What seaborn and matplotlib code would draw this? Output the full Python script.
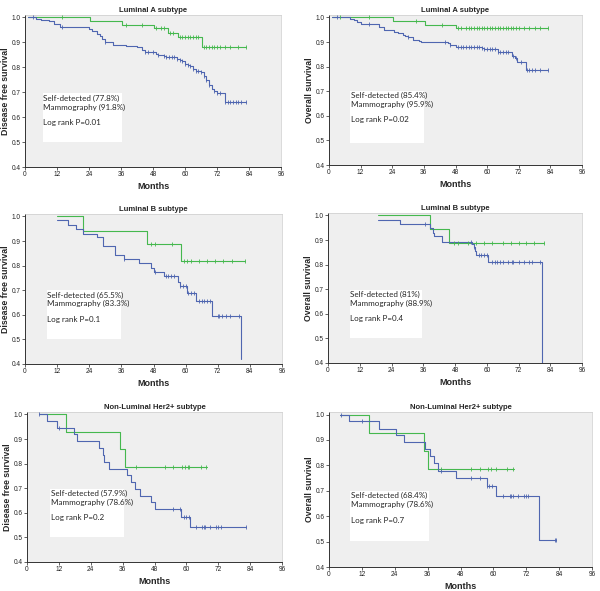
import numpy as np
import matplotlib
matplotlib.use("Agg")
import matplotlib.pyplot as plt
from matplotlib.patches import Rectangle
import seaborn as sns

# ---- data (months, survival) ----
# Luminal A, disease free survival
la_dfs_self_t = [1, 4, 6, 9, 11, 13, 24, 25, 27, 28, 29, 30, 33, 38, 42, 44, 45, 49, 50, 52, 53,
                 57, 58, 59, 60, 61, 62, 63, 64, 66, 67, 68, 69, 70, 71, 72, 75, 83]
la_dfs_self_s = [1.0, 0.995, 0.99, 0.984, 0.972, 0.962, 0.955, 0.945, 0.935, 0.925, 0.915, 0.9, 0.89,
                 0.885, 0.88, 0.87, 0.862, 0.855, 0.85, 0.845, 0.84, 0.835, 0.83, 0.825, 0.815, 0.81,
                 0.805, 0.795, 0.785, 0.78, 0.765, 0.75, 0.73, 0.715, 0.705, 0.695, 0.66, 0.66]
la_dfs_self_c = [3, 14, 30, 45, 46, 48, 50, 52, 53, 54, 55, 56, 57, 58, 59, 60, 61, 62, 63, 64, 65,
                 66, 67, 68, 69, 71, 72, 73, 75, 76, 77, 78, 79, 80, 81, 83]
la_dfs_mammo_t = [1, 24.4, 36.5, 48.5, 53.5, 57.2, 66.2, 83]
la_dfs_mammo_s = [1.0, 0.984, 0.971, 0.958, 0.938, 0.92, 0.883, 0.883]
la_dfs_mammo_c = [14, 38, 44, 49, 51, 52, 54.5, 55.5, 58, 59, 60, 61, 62, 63, 64, 65, 67, 68, 69,
                  70, 71, 72, 73, 75, 77, 80, 83]

# Luminal A, overall survival
la_os_self_t = [1, 8, 9.5, 10.5, 12, 19, 21, 24.5, 26, 28, 29, 30, 32, 34, 35, 45, 46, 48, 58, 59,
                64, 69.5, 70.5, 71.5, 74.8, 83]
la_os_self_s = [1.0, 0.995, 0.99, 0.98, 0.972, 0.96, 0.95, 0.94, 0.935, 0.93, 0.925, 0.92, 0.91,
                0.905, 0.9, 0.895, 0.89, 0.878, 0.875, 0.87, 0.858, 0.843, 0.835, 0.82, 0.785, 0.785]
la_os_self_c = [3, 15, 30, 44, 46, 49, 50, 51, 52, 53, 54, 55, 56, 57, 58, 59, 60, 61, 62, 63, 64,
                65, 66, 67, 68, 70, 71, 73, 75, 76, 77, 78, 80, 83]
la_os_mammo_t = [1, 24.3, 36.3, 48.2, 83]
la_os_mammo_s = [1.0, 0.984, 0.971, 0.957, 0.957]
la_os_mammo_c = [4, 15, 33, 43, 49, 50, 52, 53, 54, 55, 56, 57, 58, 59, 60, 61, 62, 63, 64, 65, 66,
                 67, 68, 69, 70, 71, 72, 74, 76, 78, 80, 83]

# Luminal B, disease free survival
lb_dfs_self_t = [11.8, 16, 19, 21.5, 27, 29, 33.5, 37, 42.5, 47, 48, 52, 57, 57.8, 60.5, 64, 70,
                 80.8, 80.8]
lb_dfs_self_s = [0.984, 0.966, 0.948, 0.93, 0.915, 0.88, 0.845, 0.826, 0.81, 0.79, 0.775, 0.758,
                 0.735, 0.716, 0.69, 0.655, 0.595, 0.42, 0.42]
lb_dfs_self_c = [37, 48.5, 52.5, 53.5, 54.5, 55.5, 58, 59, 60, 61, 62, 63, 65, 66, 67, 68, 69, 72,
                 72.5, 73.5, 75, 76.5, 80]
lb_dfs_mammo_t = [11.8, 21.7, 45.5, 58.1, 82]
lb_dfs_mammo_s = [1.0, 0.942, 0.888, 0.82, 0.82]
lb_dfs_mammo_c = [47, 48.5, 55, 59.5, 60.5, 62, 65, 68, 71, 74, 77.5, 82]

# Luminal B, overall survival
lb_os_self_t = [18.9, 27.1, 38.5, 39.5, 40, 43, 54.5, 55, 55.5, 56, 60.5, 81, 81]
lb_os_self_s = [0.981, 0.965, 0.947, 0.93, 0.915, 0.894, 0.885, 0.87, 0.855, 0.838, 0.809, 0.4, 0.4]
lb_os_self_c = [36.5, 54, 55, 57, 58, 59, 60, 62, 63, 64, 65, 66, 68, 69.5, 70, 72, 74, 76, 77, 80]
lb_os_mammo_t = [18.9, 38.4, 45.6, 81.8]
lb_os_mammo_s = [1.0, 0.943, 0.887, 0.887]
lb_os_mammo_c = [47.5, 49, 53, 56, 59, 62, 66, 69, 72, 75, 78, 81.8]

# Non-luminal Her2+, disease free survival
her2_dfs_self_t = [4.5, 7.4, 11.3, 17.8, 18.8, 27.1, 28.5, 29, 31, 37.5, 39, 40.5, 42.5, 46.5, 48,
                   58, 61.5, 82.6]
her2_dfs_self_s = [1.0, 0.972, 0.946, 0.919, 0.891, 0.863, 0.835, 0.808, 0.78, 0.753, 0.725, 0.697,
                   0.67, 0.642, 0.614, 0.583, 0.542, 0.542]
her2_dfs_self_c = [4.5, 12, 55, 57.5, 59, 60, 61, 63.5, 66, 66.5, 67, 69, 71, 72, 73, 82.5]
her2_dfs_mammo_t = [4.5, 14.7, 34.9, 36.8, 67.6]
her2_dfs_mammo_s = [1.0, 0.929, 0.858, 0.787, 0.787]
her2_dfs_mammo_c = [41, 52, 55, 58.5, 59.5, 60.5, 61, 65.5, 67.5]

# Non-luminal Her2+, overall survival
her2_os_self_t = [4.0, 7.2, 18.1, 24.4, 27.2, 35, 37, 38.5, 39.7, 46.5, 57.5, 61, 76.5, 82.7]
her2_os_self_s = [1.0, 0.973, 0.945, 0.918, 0.891, 0.864, 0.836, 0.809, 0.779, 0.751, 0.718,
                  0.679, 0.506, 0.506]
her2_os_self_c = [4.5, 12, 41, 52, 55, 57.5, 58.5, 59.5, 63.5, 66, 66.5, 67, 69, 71, 72, 72.5,
                  82.5, 83]
her2_os_mammo_t = [4.0, 14.5, 34.8, 36.2, 67.4]
her2_os_mammo_s = [1.0, 0.929, 0.857, 0.784, 0.784]
her2_os_mammo_c = [41, 52, 55, 58, 59, 61, 65, 67]

titles = ["Luminal A subtype", "Luminal A subtype", "Luminal B subtype", "Luminal B subtype",
          "Non-Luminal Her2+ subtype", "Non-Luminal Her2+ subtype"]
ylabels = ["Disease free survival", "Overall survival"] * 3
self_pct = ["77.8%", "85.4%", "65.5%", "81%", "57.9%", "68.4%"]
mammo_pct = ["91.8%", "95.9%", "83.3%", "88.9%", "78.6%", "78.6%"]
logrank_p = ["0.01", "0.02", "0.1", "0.4", "0.2", "0.7"]

curves = [
    (la_dfs_self_t, la_dfs_self_s, la_dfs_self_c, la_dfs_mammo_t, la_dfs_mammo_s, la_dfs_mammo_c),
    (la_os_self_t, la_os_self_s, la_os_self_c, la_os_mammo_t, la_os_mammo_s, la_os_mammo_c),
    (lb_dfs_self_t, lb_dfs_self_s, lb_dfs_self_c, lb_dfs_mammo_t, lb_dfs_mammo_s, lb_dfs_mammo_c),
    (lb_os_self_t, lb_os_self_s, lb_os_self_c, lb_os_mammo_t, lb_os_mammo_s, lb_os_mammo_c),
    (her2_dfs_self_t, her2_dfs_self_s, her2_dfs_self_c,
     her2_dfs_mammo_t, her2_dfs_mammo_s, her2_dfs_mammo_c),
    (her2_os_self_t, her2_os_self_s, her2_os_self_c,
     her2_os_mammo_t, her2_os_mammo_s, her2_os_mammo_c),
]

# panel boxes in pixels: left, right, top, bottom
panel_px = [(25, 281, 15, 167), (329, 582, 15, 165),
            (25, 282, 214, 364), (328, 582, 213, 363),
            (27, 282, 412, 562), (329, 592, 412, 567)]
# white text box: x0, x1 (months), y0, y1 (survival)
text_boxes = [(6.6, 36.2, 0.499, 0.696), (8.1, 36.0, 0.49, 0.702),
              (8.1, 35.9, 0.50, 0.70), (8.2, 35.7, 0.50, 0.698),
              (8.8, 36.4, 0.50, 0.698), (7.7, 36.5, 0.504, 0.701)]

BLUE = "#4f66b0"
GREEN = "#45b84e"
W, H = 600, 591

sns.set_theme(style="white")
plt.rcParams["font.family"] = ["Liberation Sans", "DejaVu Sans"]

fig = plt.figure(figsize=(6.0, 5.91), dpi=100)


def censor_y(t, s, c):
    idx = np.searchsorted(t, c, side="right") - 1
    return np.asarray(s)[idx]


for i, (l, r, top, bot) in enumerate(panel_px):
    ax = fig.add_axes([l / W, 1 - bot / H, (r - l) / W, (bot - top) / H])
    ax.set_facecolor("#efefef")
    st, ss, sc, mt, ms, mc = curves[i]

    # white box with the percentages, behind the curves
    x0, x1, y0, y1 = text_boxes[i]
    ax.add_patch(Rectangle((x0, y0), x1 - x0, y1 - y0, facecolor="white",
                           edgecolor="none", zorder=1))
    box_font = dict(fontsize=5.8, family=["Lato", "DejaVu Sans"], va="center", zorder=2)
    ax.text(x0 + 0.3, y1 - 0.02, f"Self-detected ({self_pct[i]})", **box_font)
    ax.text(x0 + 0.3, y1 - 0.055, f"Mammography ({mammo_pct[i]})", **box_font)
    ax.text(x0 + 0.3, y1 - 0.118, f"Log rank P={logrank_p[i]}", **box_font)

    for t, s, c, col in [(mt, ms, mc, GREEN), (st, ss, sc, BLUE)]:
        sns.lineplot(x=t, y=s, ax=ax, drawstyle="steps-post", estimator=None, sort=False,
                     color=col, linewidth=0.8, zorder=3)
        sns.scatterplot(x=c, y=censor_y(t, s, c), ax=ax, marker="|", s=8,
                        color=col, linewidth=0.6, zorder=4)

    ax.set_xlim(0, 96)
    ax.set_ylim(0.4, 1.01)
    ax.set_xticks(range(0, 97, 12))
    ax.set_yticks([0.4, 0.5, 0.6, 0.7, 0.8, 0.9, 1.0])
    ax.set_yticklabels(["0.4", "0.5", "0.6", "0.7", "0.8", "0.9", "1.0"])
    ax.tick_params(axis="both", labelsize=4.7, length=2, width=0.5, pad=1,
                   bottom=True, left=True, colors="#222222")
    for side in ["left", "bottom"]:
        ax.spines[side].set_color("#333333")
        ax.spines[side].set_linewidth(0.7)
    for side in ["top", "right"]:
        ax.spines[side].set_color("#cccccc")
        ax.spines[side].set_linewidth(0.5)
    ax.set_title(titles[i], fontsize=5.5, fontweight="bold", pad=2.5)
    ax.set_xlabel("Months", fontsize=6.5, fontweight="bold", labelpad=2.5)
    ax.set_ylabel(ylabels[i], fontsize=6.3, fontweight="bold", labelpad=1.5)

fig.savefig("out.png", dpi=100, facecolor="white")
